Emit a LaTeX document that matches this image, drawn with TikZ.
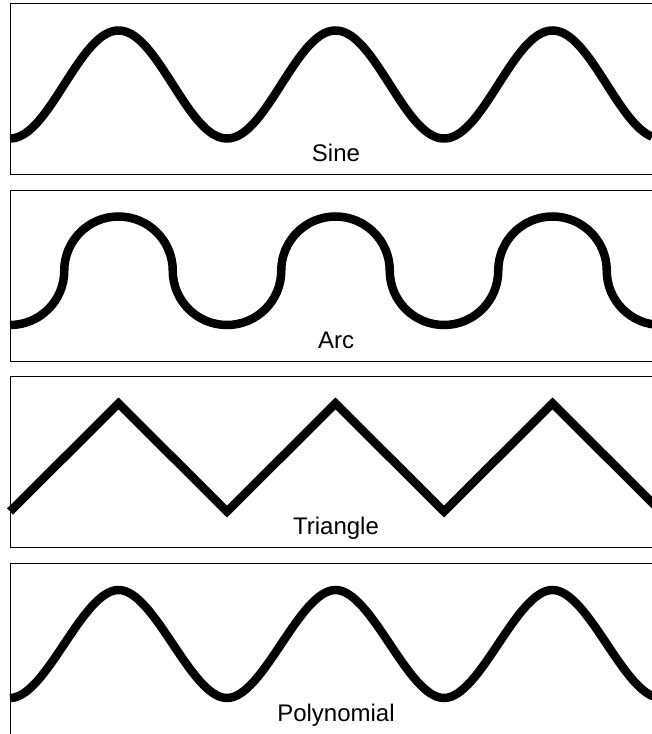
\documentclass[tikz,border=0pt]{standalone}
\usepackage{fontspec}
\setmainfont{Liberation Sans}

\begin{document}
\begin{tikzpicture}[x=1pt,y=1pt,frame/.style={draw=black,line width=1pt},wave/.style={line width=8.5pt},lbl/.style={anchor=base,font=\fontsize{24}{28}\selectfont}]
 \useasboundingbox (0,0) rectangle (652,734);
 \clip (0,0) rectangle (652,734);
 \foreach \i/\name/\txt in {0/sine/Sine,1/arc/Arc,2/tri/Triangle,3/poly/Polynomial}{
  \pgfmathsetmacro\T{730-186.5*\i}
  \draw[frame] (652,\T) -- (10,\T) -- (10,\T-171) -- (652,\T-171);
  \node[lbl] (\name) at (336,\T-158) {\txt};
 }
 % sine
 \draw[wave] plot[domain=10:652,samples=240] (\x,{649.5-54*cos((\x-10)/217*360)});
 % arc
 \draw[wave] (10,409) \foreach \k in {0,1,2}{ arc[start angle=-90,end angle=0,radius=54.25] arc[start angle=180,end angle=90,radius=54.25] arc[start angle=90,end angle=0,radius=54.25] arc[start angle=180,end angle=270,radius=54.25]};
 % triangle
 \draw[wave] (10,222.5) -- (118.5,330.5) -- (227,222.5) -- (335.5,330.5) -- (444,222.5) -- (552.5,330.5) -- (661,222.5);
 % polynomial
 \draw[wave] (10,36) .. controls (46.2,36) and (82.3,144) .. (118.5,144)
  .. controls (154.7,144) and (190.8,36) .. (227,36)
  .. controls (263.2,36) and (299.3,144) .. (335.5,144)
  .. controls (371.7,144) and (407.8,36) .. (444,36)
  .. controls (480.2,36) and (516.3,144) .. (552.5,144)
  .. controls (588.7,144) and (624.8,36) .. (661,36);
\end{tikzpicture}
\end{document}
